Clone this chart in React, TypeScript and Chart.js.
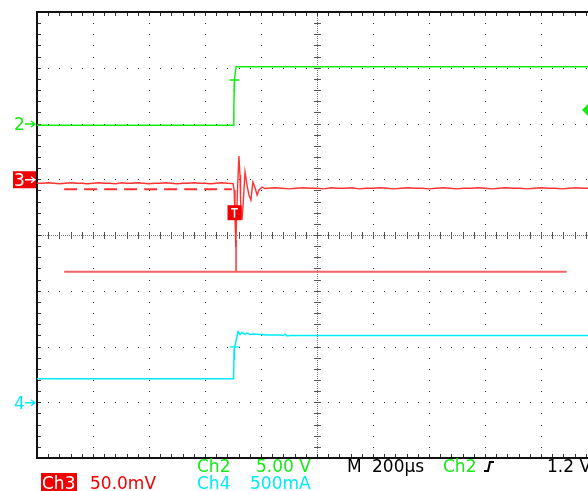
import React, { useEffect, useRef } from "react";
import { Chart, registerables } from "chart.js";

Chart.register(...registerables);

// ---- Data (time in µs from left edge of screen, 200 µs/div) ----
const TIME_MAX = 2000;
const DIVS_X = 10;
const DIVS_Y = 8;

// Ch2 (V), 5.00 V/div, ground at 6 div
const ch2Times = [0, 700, 703, 705, 711, 2000];
const ch2Values = [-0.15, -0.15, 1.5, 3.9, 5.1, 5.1];

// Ch3 (mV), 50.0 mV/div, ground at 5 div
const ch3PreStep = 20; // µs between samples, starting at 0
const ch3PreValues = [-3.6, -3.6, -3.1, -3.6, -4.1, -3.6, -3.1, -3.6, -3.6, -4.1, -3.6, -3.1, -3.6, -3.6, -4.1, -3.1, -3.6, -3.6, -3.1, -3.6, -4.1, -3.6, -3.6, -3.1, -3.6, -4.1, -3.6, -3.6, -3.1, -3.6, -3.6, -4.1, -3.6, -3.1, -3.6];
const ch3RingTimes = [700, 704, 707, 710, 712, 716, 721, 725, 727, 732, 736, 743, 750, 757, 764, 771, 779, 786, 793, 804, 814];
const ch3RingValues = [-3.8, -9.6, -32.1, -60.8, -41.0, -9.6, 20.9, 3.8, -18.6, -36.6, -23.1, 6.5, -5.2, -14.1, -18.6, -2.5, -7.8, -14.1, -9.6, -7.0, -8.3];
const ch3PostStart = 825;
const ch3PostStep = 25;
const ch3PostValues = [-8.1, -7.6, -8.1, -8.6, -8.1, -7.6, -8.1, -8.1, -8.6, -7.6, -8.1, -8.1, -7.6, -8.6, -8.1, -8.1, -7.6, -8.1, -8.6, -8.1, -7.6, -8.1, -8.1, -8.6, -8.1, -7.6, -8.1, -8.6, -8.1, -8.1, -7.6, -8.1, -8.6, -8.1, -7.6, -8.1, -8.1, -8.6, -8.1, -7.6, -8.1, -8.1, -8.6, -8.1, -7.6, -8.1, -8.1, -8.6];

// Ch3 reference traces (mV)
const refDashTimes = [97, 696];
const refDashValues = [-9.0, -9.0];
const refSolidTimes = [97, 711, 711, 711, 1892];
const refSolidValues = [-82.9, -82.9, -54.5, -82.9, -82.9];

// Ch4 (mA), 500 mA/div, zero at 1 div
const ch4Times = [0, 702, 704, 718, 725, 732, 743, 750, 761, 775, 796, 825, 868, 880, 886, 893, 904, 1000, 1200, 1400, 1600, 1800, 2000];
const ch4Values = [211, 211, 469, 633, 608, 626, 608, 621, 608, 612, 608, 603, 603, 599, 612, 594, 599, 599, 599, 599, 599, 599, 599];

// Trigger / markers
const TRIG_TIME = 707;
const TRIG_LEVEL_V = 1.2;
const ch2TMarkV = 3.9;
const ch3TMarkMV = -30;
const ch4TMarkMA = 496;

const GREEN = "rgb(20,235,20)";
const RED = "rgb(255,50,50)";
const RED_LIGHT = "rgb(240,100,100)";
const CYAN = "rgb(0,235,245)";
const FONT = '17px "DejaVu Sans"';

const pts = (t: number[], v: number[]) => t.map((x, i) => ({ x, y: v[i] }));

const ch3Points = [
  ...ch3PreValues.map((y, i) => ({ x: i * ch3PreStep, y })),
  ...pts(ch3RingTimes, ch3RingValues),
  ...ch3PostValues.map((y, i) => ({ x: ch3PostStart + i * ch3PostStep, y })),
];

const graticule = {
  id: "graticule",
  beforeDatasetsDraw(chart: any) {
    const { ctx, chartArea: a, scales } = chart;
    const xs = scales.x;
    const ys = scales.div;
    const px = (i: number) => xs.getPixelForValue((i * TIME_MAX) / DIVS_X);
    const py = (j: number) => ys.getPixelForValue(j);
    ctx.save();
    ctx.fillStyle = "#222";
    for (let i = 1; i < DIVS_X; i++) {
      if (i === 5) continue;
      const x = Math.round(px(i));
      for (let k = 1; k < DIVS_Y * 5; k++) {
        const y = Math.round(py(k / 5));
        ctx.fillRect(x, y, 1, 1);
      }
    }
    for (let j = 1; j < DIVS_Y; j++) {
      if (j === 4) continue;
      const y = Math.round(py(j));
      for (let k = 1; k < DIVS_X * 5; k++) {
        const x = Math.round(px(k / 5));
        ctx.fillRect(x, y, 1, 1);
      }
    }
    const cx = Math.round(px(5));
    const cy = Math.round(py(4));
    ctx.fillStyle = "#777";
    for (let y = Math.round(a.top); y < a.bottom; y += 2) ctx.fillRect(cx, y, 1, 1);
    for (let x = Math.round(a.left); x < a.right; x += 2) ctx.fillRect(x, cy, 1, 1);
    ctx.fillStyle = "#555";
    for (let k = 1; k < DIVS_Y * 5; k++) {
      const y = Math.round(py(k / 5));
      ctx.fillRect(cx - 3, y, 7, 1);
    }
    for (let k = 1; k < DIVS_X * 5; k++) {
      const x = Math.round(px(k / 5));
      ctx.fillRect(x, cy - 3, 1, 7);
    }
    ctx.fillStyle = "#333";
    for (let k = 1; k < DIVS_X * 5; k++) {
      const x = Math.round(px(k / 5));
      ctx.fillRect(x, Math.round(a.top), 1, 4);
      ctx.fillRect(x, Math.round(a.bottom) - 4, 1, 4);
    }
    for (let k = 1; k < DIVS_Y * 5; k++) {
      const y = Math.round(py(k / 5));
      ctx.fillRect(Math.round(a.left), y, 4, 1);
    }
    ctx.fillStyle = "#111";
    ctx.fillRect(Math.round(a.left) - 1, Math.round(a.top) - 1, 2, Math.round(a.bottom - a.top) + 2);
    ctx.fillRect(Math.round(a.left) - 1, Math.round(a.top) - 1, Math.round(a.right - a.left) + 2, 2);
    ctx.fillRect(Math.round(a.left) - 1, Math.round(a.bottom) - 1, Math.round(a.right - a.left) + 2, 2);
    ctx.restore();
  },
};

function arrow(ctx: CanvasRenderingContext2D, x0: number, x1: number, y: number, color: string) {
  ctx.strokeStyle = color;
  ctx.lineWidth = 1.3;
  ctx.beginPath();
  ctx.moveTo(x0, y);
  ctx.lineTo(x1, y);
  ctx.moveTo(x1 - 4, y - 3);
  ctx.lineTo(x1, y);
  ctx.lineTo(x1 - 4, y + 3);
  ctx.stroke();
}

const overlay = {
  id: "overlay",
  afterDraw(chart: any) {
    const { ctx, scales } = chart;
    const xs = scales.x;
    const y2 = scales.ch2.getPixelForValue(0);
    const y3 = scales.ch3.getPixelForValue(0);
    const y4 = scales.ch4.getPixelForValue(0);
    ctx.save();
    ctx.font = FONT;
    ctx.textBaseline = "alphabetic";
    ctx.fillStyle = GREEN;
    ctx.fillText("2", 14, y2 + 6.5);
    arrow(ctx, 25, 35, y2 + 0.5, GREEN);
    ctx.fillStyle = "rgb(240,0,0)";
    ctx.fillRect(13, y3 - 8, 23, 17);
    ctx.fillStyle = "#fff";
    ctx.fillText("3", 14, y3 + 6.5);
    arrow(ctx, 25, 35, y3 + 0.5, "#fff");
    ctx.fillStyle = CYAN;
    ctx.fillText("4", 14, y4 + 6.5);
    arrow(ctx, 25, 35, y4 + 0.5, CYAN);

    const tx = Math.round(xs.getPixelForValue(TRIG_TIME)) - 0.5;
    const gT = scales.ch2.getPixelForValue(ch2TMarkV);
    ctx.strokeStyle = GREEN;
    ctx.lineWidth = 1.3;
    ctx.beginPath();
    ctx.moveTo(tx - 5, gT);
    ctx.lineTo(tx + 5, gT);
    ctx.moveTo(tx, gT);
    ctx.lineTo(tx, gT + 12);
    ctx.stroke();
    const cT = scales.ch4.getPixelForValue(ch4TMarkMA);
    ctx.strokeStyle = CYAN;
    ctx.beginPath();
    ctx.moveTo(tx - 5, cT);
    ctx.lineTo(tx + 5, cT);
    ctx.moveTo(tx, cT);
    ctx.lineTo(tx, cT + 13);
    ctx.stroke();
    const rT = scales.ch3.getPixelForValue(ch3TMarkMV);
    ctx.fillStyle = "rgb(240,0,0)";
    ctx.fillRect(tx - 7, rT - 7.5, 14, 15);
    ctx.strokeStyle = "#fff";
    ctx.lineWidth = 1.5;
    ctx.beginPath();
    ctx.moveTo(tx - 3.5, rT - 4);
    ctx.lineTo(tx + 3.5, rT - 4);
    ctx.moveTo(tx, rT - 4);
    ctx.lineTo(tx, rT + 5);
    ctx.stroke();

    const tl = scales.ch2.getPixelForValue(TRIG_LEVEL_V);
    ctx.fillStyle = GREEN;
    ctx.beginPath();
    ctx.moveTo(582, tl);
    ctx.lineTo(589, tl - 7);
    ctx.lineTo(589, tl + 7);
    ctx.closePath();
    ctx.fill();

    ctx.fillStyle = GREEN;
    ctx.fillText("Ch2", 197, 472);
    ctx.fillText("5.00 V", 256, 472);
    ctx.fillStyle = "#000";
    ctx.fillText("M", 347, 472);
    ctx.fillText("200µs", 372, 472);
    ctx.fillStyle = GREEN;
    ctx.fillText("Ch2", 443, 472);
    ctx.strokeStyle = "#000";
    ctx.lineWidth = 2;
    ctx.beginPath();
    ctx.moveTo(484, 471);
    ctx.lineTo(488, 471);
    ctx.lineTo(490, 462);
    ctx.lineTo(494, 462);
    ctx.stroke();
    ctx.fillStyle = "#000";
    ctx.fillText("1.2 V", 547, 472);

    ctx.fillStyle = "rgb(240,0,0)";
    ctx.fillRect(41, 473, 36, 18);
    ctx.fillStyle = "#fff";
    ctx.fillText("Ch3", 42, 489);
    ctx.fillStyle = "rgb(240,0,0)";
    ctx.fillText("50.0mV", 90, 489);
    ctx.fillStyle = CYAN;
    ctx.fillText("Ch4", 197, 489);
    ctx.fillText("500mA", 250, 489);
    ctx.restore();
  },
};

export default function App() {
  const ref = useRef<HTMLCanvasElement>(null);
  useEffect(() => {
    if (!ref.current) return;
    const line = (data: any[], color: string, yAxisID: string, width = 1.4, dash: number[] = []) => ({
      data,
      borderColor: color,
      borderWidth: width,
      borderDash: dash,
      pointRadius: 0,
      tension: 0,
      fill: false,
      yAxisID,
      xAxisID: "x",
    });
    const chart = new Chart(ref.current, {
      type: "line",
      data: {
        datasets: [
          line(pts(ch2Times, ch2Values), GREEN, "ch2", 1.5),
          line(ch3Points, RED, "ch3", 1.4),
          line(pts(refDashTimes, refDashValues), RED, "ch3", 2, [13, 7]),
          line(pts(refSolidTimes, refSolidValues), RED_LIGHT, "ch3", 2),
          line(pts(ch4Times, ch4Values), CYAN, "ch4", 1.5),
        ],
      },
      options: {
        animation: false,
        responsive: false,
        events: [],
        layout: { padding: { left: 37, top: 12, right: 3, bottom: 33 } },
        plugins: { legend: { display: false }, tooltip: { enabled: false } },
        scales: {
          x: { type: "linear", axis: "x", position: "bottom", min: 0, max: TIME_MAX, display: false },
          div: { type: "linear", axis: "y", position: "left", min: 0, max: DIVS_Y, display: false },
          ch2: { type: "linear", axis: "y", position: "left", min: -30, max: 10, display: false },
          ch3: { type: "linear", axis: "y", position: "left", min: -250, max: 150, display: false },
          ch4: { type: "linear", axis: "y", position: "left", min: -500, max: 3500, display: false },
        },
      },
      plugins: [graticule, overlay],
    } as any);
    return () => chart.destroy();
  }, []);
  return (
    <div style={{ position: "absolute", left: 0, top: 0, width: 588, height: 491, overflow: "hidden", background: "#fff" }}>
      <canvas ref={ref} width={600} height={491} style={{ display: "block", width: 600, height: 491 }} />
    </div>
  );
}
